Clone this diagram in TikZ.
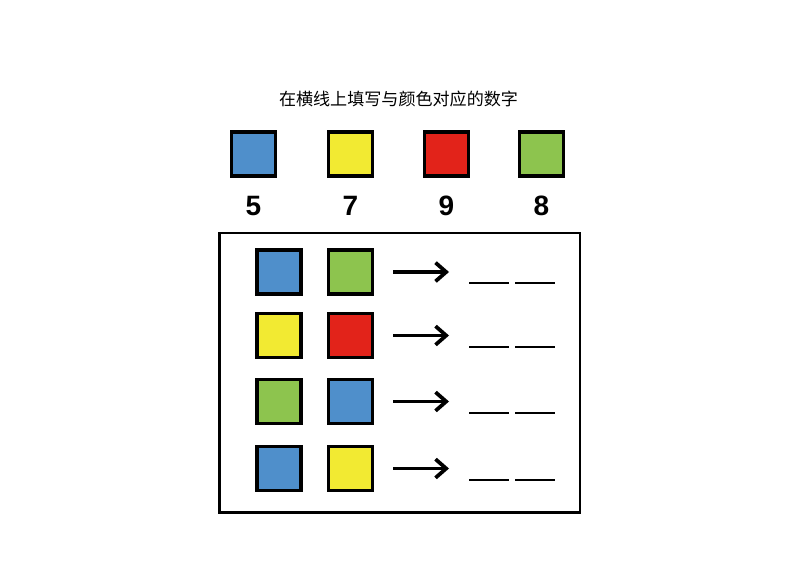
\documentclass[tikz,border=0pt]{standalone}
\usepackage{fontspec}
\setmainfont{Liberation Sans}
\newfontfamily\cjk{Noto Sans CJK SC}
\usetikzlibrary{arrows.meta}
\definecolor{sqblue}{HTML}{4F8FCB}
\definecolor{sqyellow}{HTML}{F2EA32}
\definecolor{sqred}{HTML}{E2231A}
\definecolor{sqgreen}{HTML}{8DC44E}
\tikzset{
  colorsq/.style={draw=black, line width=2.6pt, minimum size=33pt, inner sep=0pt},
  digit/.style={font=\fontsize{21}{24}\selectfont\bfseries},
  pointer/.style={line width=2.8pt, -{Straight Barb[length=8pt,width=14pt,line width=2.8pt]}},
  blank/.style={line width=1.4pt}
}
\begin{document}
\begin{tikzpicture}[x=0.75pt,y=0.75pt,yscale=-1,xscale=1]
    \useasboundingbox (0,0) rectangle (800,566);

    % Title
    \node (title) at (398.5,99) {\cjk\fontsize{12.8}{15}\selectfont 在横线上填写与颜色对应的数字};

    % Key squares
    \node[colorsq, fill=sqblue]   (keyblue)   at (253.5,154) {};
    \node[colorsq, fill=sqyellow] (keyyellow) at (350.5,154) {};
    \node[colorsq, fill=sqred]    (keyred)    at (446.5,154) {};
    \node[colorsq, fill=sqgreen]  (keygreen)  at (541.5,154) {};
    % Key numbers
    \node[digit] (numblue)   at (253.5,206) {5};
    \node[digit] (numyellow) at (350.5,206) {7};
    \node[digit] (numred)    at (446.5,206) {9};
    \node[digit] (numgreen)  at (541.5,206) {8};

    % Frame
    \draw[line width=2.2pt] (219.5,233) rectangle (580,512.5);

    % Row 1
    \node[colorsq, fill=sqblue]   (rowAleft)  at (279,272) {};
    \node[colorsq, fill=sqgreen]  (rowAright) at (350.5,272) {};
    \coordinate (arrAstart) at (393,272);
    \coordinate (arrAend)   at (449,272);
    \draw[pointer] (arrAstart) -- (arrAend);
    \coordinate (blankAa) at (469,283);
    \coordinate (blankAb) at (509,283);
    \coordinate (blankAc) at (515,283);
    \coordinate (blankAd) at (555,283);
    \draw[blank] (blankAa) -- (blankAb);
    \draw[blank] (blankAc) -- (blankAd);

    % Row 2
    \node[colorsq, fill=sqyellow] (rowBleft)  at (279,335.5) {};
    \node[colorsq, fill=sqred]    (rowBright) at (350.5,335.5) {};
    \coordinate (arrBstart) at (393,335.5);
    \coordinate (arrBend)   at (449,335.5);
    \draw[pointer] (arrBstart) -- (arrBend);
    \coordinate (blankBa) at (469,347);
    \coordinate (blankBb) at (509,347);
    \coordinate (blankBc) at (515,347);
    \coordinate (blankBd) at (555,347);
    \draw[blank] (blankBa) -- (blankBb);
    \draw[blank] (blankBc) -- (blankBd);

    % Row 3
    \node[colorsq, fill=sqgreen]  (rowCleft)  at (279,401.5) {};
    \node[colorsq, fill=sqblue]   (rowCright) at (350.5,401.5) {};
    \coordinate (arrCstart) at (393,401.5);
    \coordinate (arrCend)   at (449,401.5);
    \draw[pointer] (arrCstart) -- (arrCend);
    \coordinate (blankCa) at (469,413);
    \coordinate (blankCb) at (509,413);
    \coordinate (blankCc) at (515,413);
    \coordinate (blankCd) at (555,413);
    \draw[blank] (blankCa) -- (blankCb);
    \draw[blank] (blankCc) -- (blankCd);

    % Row 4
    \node[colorsq, fill=sqblue]   (rowDleft)  at (279,468.5) {};
    \node[colorsq, fill=sqyellow] (rowDright) at (350.5,468.5) {};
    \coordinate (arrDstart) at (393,468.5);
    \coordinate (arrDend)   at (449,468.5);
    \draw[pointer] (arrDstart) -- (arrDend);
    \coordinate (blankDa) at (469,480);
    \coordinate (blankDb) at (509,480);
    \coordinate (blankDc) at (515,480);
    \coordinate (blankDd) at (555,480);
    \draw[blank] (blankDa) -- (blankDb);
    \draw[blank] (blankDc) -- (blankDd);

\end{tikzpicture}
\end{document}
